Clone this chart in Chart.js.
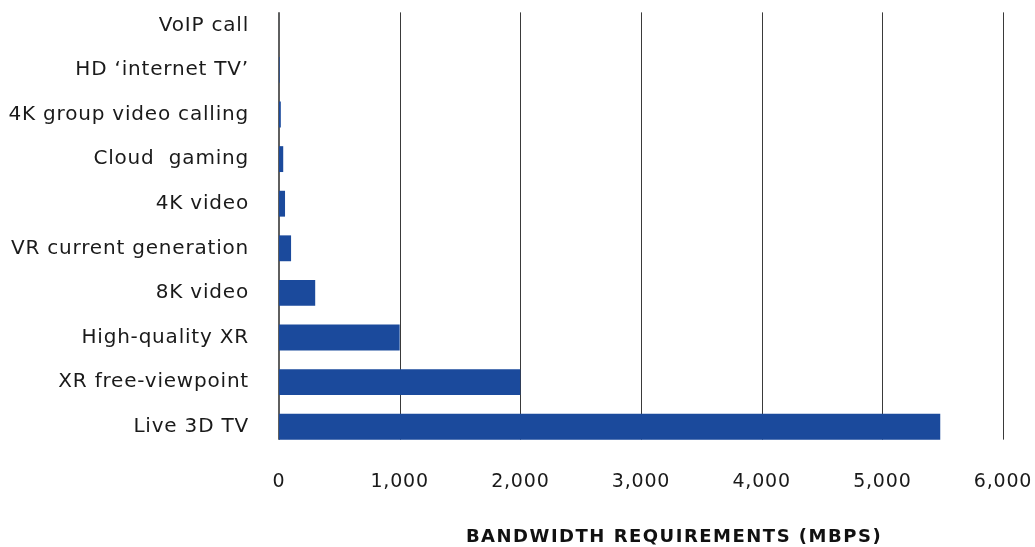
<!DOCTYPE html>
<html>
<head>
<meta charset="utf-8">
<script src="https://cdn.jsdelivr.net/npm/chart.js@4"></script>
<style>
  html, body { margin: 0; padding: 0; background: #fff; }
  #wrap { width: 1035px; height: 547px; }
</style>
</head>
<body>
<div id="wrap"><canvas id="bwChart" width="1035" height="547"></canvas></div>
<script>
// data (Mbps)
const categories = [
    'VoIP call',
    'HD \u2018internet TV\u2019',
    '4K group video calling',
    'Cloud  gaming',
    '4K video',
    'VR current generation',
    '8K video',
    'High-quality XR',
    'XR free-viewpoint',
    'Live 3D TV'
];
const bandwidth = [0.1, 5, 15, 35, 50, 100, 300, 1000, 2000, 5480];
const xTicks = [0, 1000, 2000, 3000, 4000, 5000, 6000];
const axisTitle = 'BANDWIDTH REQUIREMENTS (MBPS)';

const FONT = "'DejaVu Sans', sans-serif";

// vertical gridlines only as tall as the bars, behind them + axis title
const gridBehind = {
    id: 'gridBehind',
    beforeDraw(chart) {
        // wider lettering, closer to the original typeface
        chart.ctx.letterSpacing = '0.8px';
    },
    beforeDatasetsDraw(chart) {
        const { ctx, scales: { x, y } } = chart;
        const meta = chart.getDatasetMeta(0);
        const half = meta.data[0].height / 2;
        const top = y.getPixelForValue(0) - half;
        const bottom = y.getPixelForValue(categories.length - 1) + half;
        ctx.save();
        xTicks.forEach(v => {
            const px = Math.round(x.getPixelForValue(v));
            ctx.beginPath();
            if (v === 0) {
                ctx.strokeStyle = '#5f5f5f';
                ctx.lineWidth = 2;
                ctx.moveTo(px, top);
                ctx.lineTo(px, bottom);
            } else {
                ctx.strokeStyle = '#3a3a3a';
                ctx.lineWidth = 1;
                ctx.moveTo(px + 0.5, top);
                ctx.lineTo(px + 0.5, bottom);
            }
            ctx.stroke();
        });
        ctx.restore();
    },
    afterDraw(chart) {
        const { ctx } = chart;
        ctx.save();
        ctx.letterSpacing = '1.5px';
        ctx.font = 'bold 18px ' + FONT;
        ctx.fillStyle = '#111';
        ctx.textAlign = 'center';
        ctx.textBaseline = 'middle';
        ctx.fillText(axisTitle, 674, 537);
        ctx.restore();
    }
};

new Chart(document.getElementById('bwChart'), {
    type: 'bar',
    data: {
        labels: categories,
        datasets: [{
            data: bandwidth,
            backgroundColor: '#1b4a9c',
            borderWidth: 0,
            categoryPercentage: 1,
            barPercentage: 0.58
        }]
    },
    options: {
        indexAxis: 'y',
        responsive: false,
        animation: false,
        layout: { padding: { left: 8, right: 32, top: 3, bottom: 0 } },
        plugins: {
            legend: { display: false },
            tooltip: { enabled: false }
        },
        scales: {
            x: {
                min: 0,
                max: 6000,
                afterBuildTicks(scale) {
                    scale.ticks = xTicks.map(v => ({ value: v }));
                },
                afterFit(scale) {
                    scale.height = 98;
                    scale.paddingLeft = 0;
                    scale.paddingRight = 0;
                },
                grid: { display: false, drawTicks: false },
                border: { display: false },
                ticks: {
                    padding: 22,
                    maxRotation: 0,
                    color: '#1a1a1a',
                    font: { family: FONT, size: 19 },
                    callback: v => v.toLocaleString('en-US')
                }
            },
            y: {
                afterFit(scale) {
                    scale.width = 271;
                    scale.paddingTop = 0;
                    scale.paddingBottom = 0;
                },
                grid: { display: false, drawTicks: false },
                border: { display: false },
                ticks: {
                    padding: 30,
                    color: '#1a1a1a',
                    font: { family: FONT, size: 20 }
                }
            }
        }
    },
    plugins: [gridBehind]
});
</script>
</body>
</html>
